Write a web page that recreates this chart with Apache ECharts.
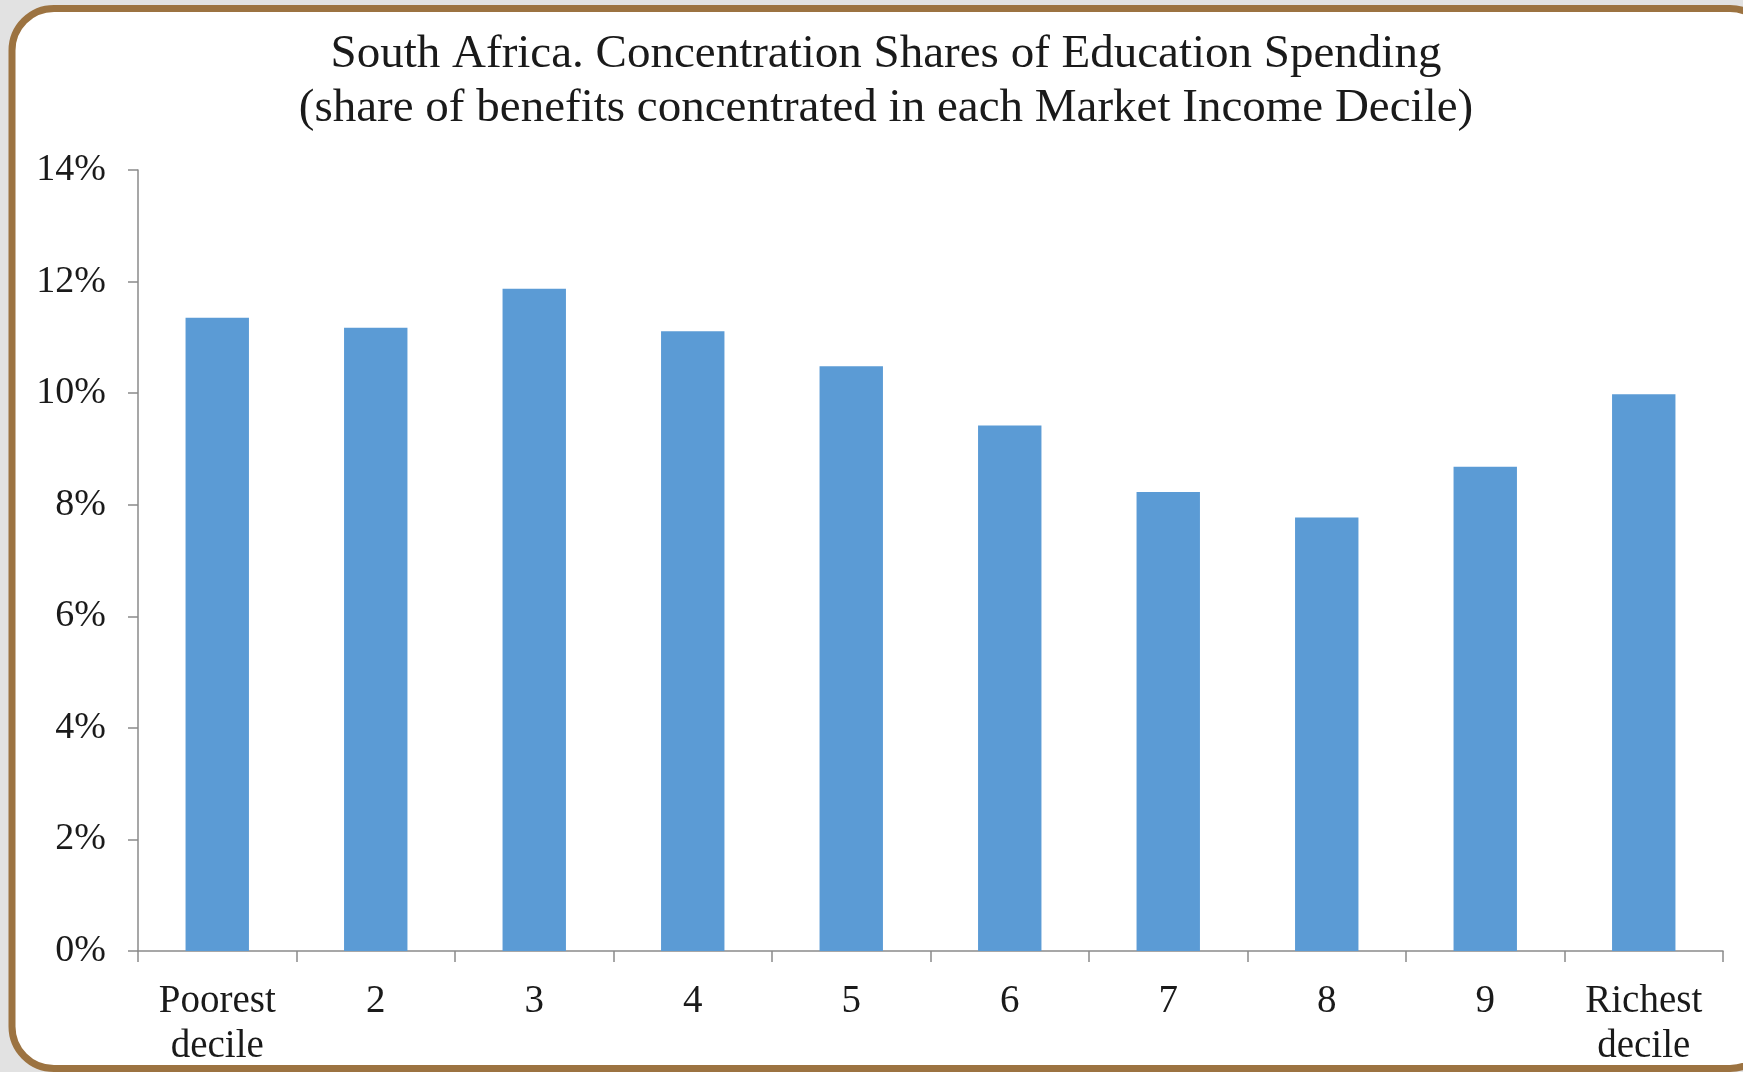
<!DOCTYPE html>
<html>
<head>
<meta charset="utf-8">
<script src="https://cdn.jsdelivr.net/npm/echarts@6/dist/echarts.min.js"></script>
<style>
  html, body { margin: 0; padding: 0; background: #e2e2e2; }
  #chart { width: 1743px; height: 1072px; }
</style>
</head>
<body>
<div id="chart"></div>
<script>
// Market income deciles, poorest to richest
const deciles = ['Poorest\ndecile', '2', '3', '4', '5', '6', '7', '8', '9', 'Richest\ndecile'];
// Concentration share of education spending in each decile (%)
const educationShare = [11.35, 11.17, 11.87, 11.11, 10.48, 9.42, 8.23, 7.77, 8.68, 9.98];
// Value axis ticks (%)
const yTicks = [0, 2, 4, 6, 8, 10, 12, 14];

const serif = '"Liberation Serif", "Times New Roman", serif';
const chart = echarts.init(document.getElementById('chart'));

chart.setOption({
  backgroundColor: '#e2e2e2',
  animation: false,
  graphic: [{
    type: 'rect',
    z: -10,
    silent: true,
    shape: { x: 12, y: 8.5, width: 1760, height: 1060, r: 42 },
    style: { fill: '#ffffff', stroke: '#9c7341', lineWidth: 7 }
  }],
  title: {
    text: 'South Africa. Concentration Shares of Education Spending\n(share of benefits concentrated in each Market Income Decile)',
    left: 886,
    top: 28,
    padding: 0,
    textAlign: 'center',
    textStyle: {
      fontFamily: serif,
      fontSize: 47,
      fontWeight: 'normal',
      color: '#1a1a1a',
      lineHeight: 54
    }
  },
  grid: { left: 138, right: 20, top: 170, bottom: 121, containLabel: false },
  xAxis: {
    type: 'category',
    data: deciles,
    boundaryGap: true,
    axisLine: { lineStyle: { color: '#8a8a8a', width: 1.5 } },
    axisTick: { show: true, alignWithLabel: false, length: 11, lineStyle: { color: '#8a8a8a', width: 1.5 } },
    axisLabel: {
      fontFamily: serif,
      fontSize: 39,
      color: '#1a1a1a',
      lineHeight: 45,
      margin: 28,
      interval: 0
    }
  },
  yAxis: {
    type: 'value',
    min: yTicks[0],
    max: yTicks[yTicks.length - 1],
    interval: 2,
    splitLine: { show: false },
    axisLine: { show: true, lineStyle: { color: '#8a8a8a', width: 1.5 } },
    axisTick: { show: true, length: 10, lineStyle: { color: '#8a8a8a', width: 1.5 } },
    axisLabel: {
      fontFamily: serif,
      fontSize: 38,
      color: '#1a1a1a',
      margin: 32,
      formatter: v => v + '%'
    }
  },
  series: [{
    type: 'bar',
    data: educationShare,
    barWidth: '40%',
    itemStyle: { color: '#5b9bd5' },
    silent: true
  }]
});
</script>
</body>
</html>
